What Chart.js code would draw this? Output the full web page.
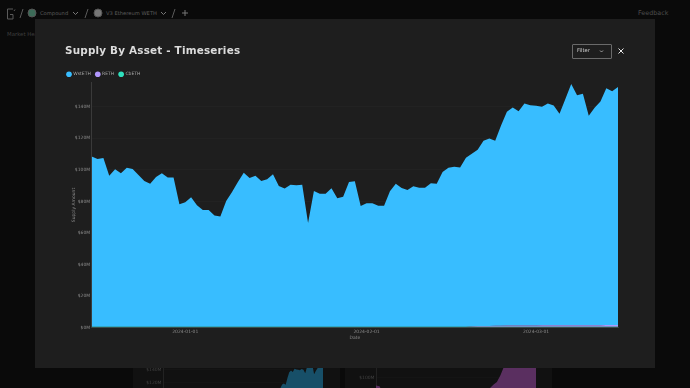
<!DOCTYPE html>
<html><head><meta charset="utf-8">
<script src="https://cdn.jsdelivr.net/npm/chart.js@4"></script>
<style>
html,body{margin:0;padding:0;width:690px;height:388px;overflow:hidden;background:#0a0a0a;font-family:"DejaVu Sans",sans-serif}
.a{position:absolute;white-space:nowrap}
.panel{position:absolute;top:300px;height:88px;background:#111}
#modal{position:absolute;left:35px;top:19px;width:620px;height:349px;background:#1e1e1e}
canvas{display:block}
</style></head><body>
<svg class="a" style="left:0;top:0" width="690" height="40" fill="none" stroke="#5a5a5a" stroke-width="1">
<path d="M13 9H7.500V19H13V14.500H10M15 9.500l-1 1.500" />
<path d="M20 18l3-9M85 18l3-9M172 18l3-9"/>
<circle cx="32" cy="13" r="4" fill="#3c6b58" stroke="#555"/>
<circle cx="98" cy="13" r="4" fill="#777" stroke="#555"/>
<path d="M73 12l2.500 2.500 2.500-2.500M161 12l2.500 2.500 2.500-2.500" stroke="#777"/>
<path d="M185 10v6M182 13h6" stroke="#777"/>
</svg>
<div class="a" style="left:40px;top:10px;font-size:5.2px;color:#5c5c5c">Compound</div>
<div class="a" style="left:106px;top:10px;font-size:5.2px;color:#5c5c5c">V3 Ethereum WETH</div>
<div class="a" style="left:638px;top:9px;font-size:6.4px;color:#4c4c4c">Feedback</div>
<div class="a" style="left:7px;top:31px;font-size:5.4px;color:#3e3e3e">Market Health</div>
<div class="panel" style="left:133px;width:207px"><canvas id="mini1"></canvas></div>
<div class="panel" style="left:345px;width:207px"><canvas id="mini2"></canvas></div>
<div id="modal">
 <canvas id="main" width="620" height="349"></canvas>
 <div class="a" style="left:30px;top:25px;font-size:10.4px;font-weight:bold;letter-spacing:.2px;color:#dcdcdc">Supply By Asset - Timeseries</div>
 <div class="a" style="left:537px;top:25px;width:38px;height:13px;border:1px solid #6a6a6a;border-radius:1px;box-sizing:content-box"></div>
 <div class="a" style="left:542px;top:28px;font-size:5.2px;color:#cfcfcf">Filter</div>
 <svg class="a" style="left:535px;top:20px" width="110" height="24" fill="none">
  <path d="M30 11.500l1.500 1.500 1.500-1.500" stroke="#bbb" stroke-width=".8"/>
  <path d="M48.500 9.500l5 5M53.500 9.500l-5 5" stroke="#e8e8e8" stroke-width="1"/>
 </svg>
</div>
<script>
const dates=["2023-12-16","2023-12-17","2023-12-18","2023-12-19","2023-12-20","2023-12-21","2023-12-22","2023-12-23","2023-12-24","2023-12-25","2023-12-26","2023-12-27","2023-12-28","2023-12-29","2023-12-30","2023-12-31",
"2024-01-01","2024-01-02","2024-01-03","2024-01-04","2024-01-05","2024-01-06","2024-01-07","2024-01-08","2024-01-09","2024-01-10","2024-01-11","2024-01-12","2024-01-13","2024-01-14","2024-01-15","2024-01-16","2024-01-17","2024-01-18","2024-01-19","2024-01-20","2024-01-21","2024-01-22","2024-01-23","2024-01-24","2024-01-25","2024-01-26","2024-01-27","2024-01-28","2024-01-29","2024-01-30","2024-01-31",
"2024-02-01","2024-02-02","2024-02-03","2024-02-04","2024-02-05","2024-02-06","2024-02-07","2024-02-08","2024-02-09","2024-02-10","2024-02-11","2024-02-12","2024-02-13","2024-02-14","2024-02-15","2024-02-16","2024-02-17","2024-02-18","2024-02-19","2024-02-20","2024-02-21","2024-02-22","2024-02-23","2024-02-24","2024-02-25","2024-02-26","2024-02-27","2024-02-28","2024-02-29",
"2024-03-01","2024-03-02","2024-03-03","2024-03-04","2024-03-05","2024-03-06","2024-03-07","2024-03-08","2024-03-09","2024-03-10","2024-03-11","2024-03-12","2024-03-13","2024-03-14","2024-03-15"];
const tickDates=["2024-01-01","2024-02-01","2024-03-01"];
const wstETH=[108.0,106.4,107.0,95.8,99.8,97.3,100.9,100.0,96.2,92.4,90.7,94.9,97.3,94.7,94.7,77.7,78.9,82.1,77.0,74.1,74.1,70.5,69.9,79.8,85.5,91.8,97.7,94.3,95.8,92.4,93.5,96.7,89.3,87.6,90.1,89.7,90.1,65.8,86.1,84.4,84.4,87.8,81.5,82.5,91.8,92.2,76.6,78.3,78.3,76.8,76.8,85.9,90.7,88.0,86.7,89.1,88.2,88.2,91.0,90.7,98.1,100.9,101.5,101.0,107.2,109.4,111.9,117.5,118.9,117.4,127.1,135.6,138.4,136.0,140.8,139.7,139.3,138.6,140.7,139.4,134.2,143.5,153.0,145.8,146.7,132.8,137.9,141.9,150.2,148.3,151.0];
const rETH=[0,0,0,0,0,0,0,0,0,0,0,0,0,0,0,0,0,0,0,0,0,0,0,0,0,0,0,0,0,0,0,0,0,0,0,0,0,0,0,0,0,0,0,0,0,0,0,0,0,0,0,0,0,0,0,0,0,0,0,0,0,0,0,0,0,.3,.4,.5,.5,.6,.6,.7,.7,.7,.8,.8,.8,.9,.9,.9,.9,1,1,1,1,1,1,1,1.1,1.1,1.1];
const cbETH=[.5,.5,.5,.5,.5,.5,.5,.5,.5,.5,.5,.5,.5,.5,.5,.5,.5,.5,.5,.5,.5,.5,.5,.5,.5,.5,.5,.5,.5,.5,.5,.5,.5,.5,.5,.5,.5,.5,.5,.5,.5,.5,.5,.5,.5,.5,.5,.5,.5,.5,.5,.5,.5,.5,.5,.5,.5,.5,.5,.5,.5,.5,.5,.5,.5,.5,.5,.5,.5,.5,.5,.5,.5,.5,.5,.5,.5,.5,.5,.5,.5,.5,.5,.5,.5,.5,.5,.5,.5,.5,.5];
const assetNames=["WstETH","RETH","CbETH"];
const assetColors=["#38bdff","#b197fc","#2fe0bd"];
const yTicks=[0,20,40,60,80,100,120,140];
const purpleDates=["a0","a1","a2","a3","a4","a5","a6","a7","a8","a9","a10","a11","a12","a13","a14","a15","a16","a17","a18","a19","a20","a21","a22","a23","a24","a25","a26","a27","a28","a29","a30","a31","a32","a33","a34","a35","a36","a37","a38","a39","a40","a41","a42","a43","a44","a45"];
const purpleSeries=[88,87,76,75,75,74,74,73,73,72,72,72,72,73,73,72,72,72,72,72,72,73,73,72,73,74,74,73,74,75,76,78,84,89,93,103,116,120,121,120,121,121,122,121,122,122];
const font={family:'"DejaVu Sans"',size:4.5};
const money=v=>"$"+v+"M";
const legendTrim={id:"legendTrim",beforeInit(c){const l=c.legend,f=l.fit;l.fit=function(){f.call(this);this.height-=4;};}};
new Chart(document.getElementById("main"),{type:"line",plugins:[legendTrim],
 data:{labels:dates,datasets:[
  {label:assetNames[2],data:cbETH,backgroundColor:assetColors[2],borderWidth:0,fill:"origin",pointRadius:0,tension:0},
  {label:assetNames[1],data:rETH,backgroundColor:assetColors[1],borderWidth:0,fill:"-1",pointRadius:0,tension:0},
  {label:assetNames[0],data:wstETH,backgroundColor:assetColors[0],borderWidth:0,fill:"-1",pointRadius:0,tension:0}]},
 options:{responsive:false,animation:false,events:[],
  layout:{padding:{left:27,right:37,top:48,bottom:24}},
  plugins:{tooltip:{enabled:false},
   legend:{position:"top",align:"start",
    labels:{color:"#a8a8a8",font,usePointStyle:true,pointStyle:"circle",boxWidth:4,boxHeight:4,padding:5,
     sort:(a,b)=>b.datasetIndex-a.datasetIndex,
     generateLabels(c){return c.data.datasets.map((d,i)=>({text:d.label,fillStyle:d.backgroundColor,strokeStyle:d.backgroundColor,lineWidth:0,pointStyle:"circle",datasetIndex:i,fontColor:"#a8a8a8"}));}}}},
  scales:{
   x:{offset:false,border:{color:"#3a3a3a"},grid:{display:false,drawTicks:false},
    afterFit(s){s.height=16.5;s.paddingLeft=0;s.paddingRight=0;},
    title:{display:true,text:"Date",color:"#8a8a8a",font,padding:{top:0,bottom:3}},
    ticks:{color:"#8a8a8a",font,padding:2,autoSkip:false,maxRotation:0,callback(v){const l=this.getLabelForValue(v);return tickDates.includes(l)?l:null;}}},
   y:{stacked:true,min:0,max:155.4,border:{color:"#3a3a3a"},grid:{color:"#252525",lineWidth:.6,drawTicks:false},
    afterBuildTicks(s){s.ticks=yTicks.map(v=>({value:v}));},
    afterFit(s){s.width=29.7;},
    title:{display:true,text:"Supply Amount",color:"#8a8a8a",font,padding:{top:9,bottom:0}},
    ticks:{color:"#8a8a8a",font,padding:1.5,callback:money}}}}
});
function mini(id,w,h,labels,data,color,ticks,left,right,top,max){
 const c=document.getElementById(id);c.width=w;c.height=h;
 new Chart(c,{type:"line",data:{labels,datasets:[{data,backgroundColor:color,borderWidth:0,fill:"origin",pointRadius:0,tension:0}]},
  options:{responsive:false,animation:false,events:[],layout:{padding:{left:0,right,top,bottom:0}},
   plugins:{legend:{display:false},tooltip:{enabled:false}},
   scales:{x:{display:false,offset:false},
    y:{min:0,max,border:{color:"#222"},grid:{color:"#171717",lineWidth:.6,drawTicks:false},
     afterFit(s){s.width=left;},afterBuildTicks(s){s.ticks=ticks.map(v=>({value:v}));},
     ticks:{color:"#404040",font,padding:1.5,callback:money}}}}});
}
mini("mini1",207,168,dates,wstETH,"#174f68",yTicks,30,17,59,155.4);
mini("mini2",207,149,purpleDates,purpleSeries,"#5a2f60",[0,100],31,16,40,155.4);
</script>
</body></html>
